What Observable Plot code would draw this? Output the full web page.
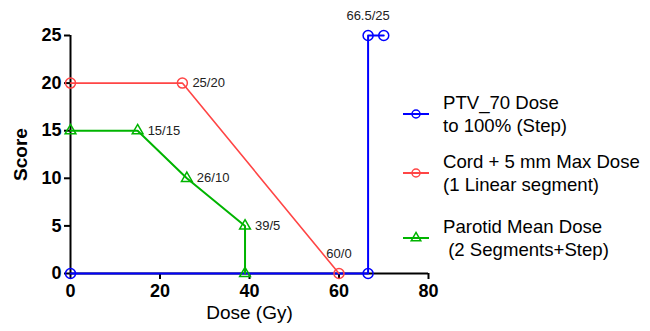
<!DOCTYPE html>
<html><head><meta charset="utf-8">
<script src="https://cdn.jsdelivr.net/npm/d3@7"></script>
<script src="https://cdn.jsdelivr.net/npm/@observablehq/plot@0.6"></script>
<style>
body{margin:0;background:#fff;}
#wrap{position:relative;width:650px;height:331px;font-family:"Liberation Sans",Arial,sans-serif;}
#legend{position:absolute;left:400px;top:0;width:250px;height:331px;}
.row{position:absolute;left:0;width:250px;height:46px;}
.row:nth-child(1){top:91px;}
.row:nth-child(2){top:150px;}
.row:nth-child(3){top:215px;}
.row svg{position:absolute;left:0;top:0;}
.row .lab{position:absolute;left:43px;top:0;font-size:18.6px;line-height:23px;white-space:pre;color:#000;}
</style>
</head><body>
<div id="wrap"><div id="legend"></div></div>
<script>
// Data
const xTicks = [0, 20, 40, 60, 80];
const yTicks = [0, 5, 10, 15, 20, 25];

const ptvX = [0, 66.5, 66.5, 70];
const ptvY = [0, 0, 25, 25];
const cordX = [0, 25, 60];
const cordY = [20, 20, 0];
const parX = [0, 15, 26, 39, 39];
const parY = [15, 15, 10, 5, 0];

const seriesNames = ["PTV_70 Dose\nto 100% (Step)", "Cord + 5 mm Max Dose\n(1 Linear segment)", "Parotid Mean Dose\n (2 Segments+Step)"];
const seriesColors = ["#0000ff", "#ff4545", "#00b400"];
const seriesSymbols = ["circle", "circle", "triangle"];

const aboveLabelText = ["66.5/25", "60/0"];
const aboveLabelX = [66.5, 60];
const aboveLabelY = [25, 0];
const rightLabelText = ["25/20", "15/15", "26/10", "39/5"];
const rightLabelX = [25, 15, 26, 39];
const rightLabelY = [20, 15, 10, 5];

const toRows = (xs, ys) => xs.map((x, i) => ({x, y: ys[i]}));
const ptv = toRows(ptvX, ptvY);
const cord = toRows(cordX, cordY);
const par = toRows(parX, parY);
const above = aboveLabelText.map((t, i) => ({t, x: aboveLabelX[i], y: aboveLabelY[i]}));
const right = rightLabelText.map((t, i) => ({t, x: rightLabelX[i], y: rightLabelY[i]}));

const font = "Liberation Sans, Arial, sans-serif";

const chart = Plot.plot({
  width: 650, height: 331,
  marginLeft: 70, marginRight: 222, marginTop: 35, marginBottom: 58,
  x: {domain: [0, 80]},
  y: {domain: [0, 25]},
  style: {fontFamily: font, color: "#000", background: "transparent", overflow: "visible"},
  marks: [
    Plot.axisY({ticks: yTicks, tickSize: 6, tickPadding: 3, fontSize: 18, fontWeight: "bold", label: null, strokeWidth: 2}),
    Plot.axisX({ticks: xTicks, tickSize: 6, tickPadding: 5, fontSize: 18, fontWeight: "bold", label: null, strokeWidth: 2}),
    Plot.ruleX([0], {stroke: "black", strokeWidth: 2}),
    Plot.ruleY([0], {stroke: "black", strokeWidth: 2}),
    Plot.text(["Score"], {frameAnchor: "left", textAnchor: "middle", rotate: -90, dx: -50, fontSize: 19, fontWeight: "bold"}),
    Plot.text(["Dose (Gy)"], {frameAnchor: "bottom", textAnchor: "middle", dy: 45, fontSize: 19}),
    Plot.line(ptv, {x: "x", y: "y", stroke: seriesColors[0], strokeWidth: 2}),
    Plot.line(cord, {x: "x", y: "y", stroke: seriesColors[1], strokeWidth: 1.6}),
    Plot.line(par, {x: "x", y: "y", stroke: seriesColors[2], strokeWidth: 2}),
    Plot.dot(ptv, {x: "x", y: "y", r: 5, symbol: seriesSymbols[0], stroke: seriesColors[0], fill: "none", strokeWidth: 1.5}),
    Plot.dot(cord, {x: "x", y: "y", r: 5, symbol: seriesSymbols[1], stroke: seriesColors[1], fill: "none", strokeWidth: 1.5}),
    Plot.dot(par, {x: "x", y: "y", r: 4, symbol: seriesSymbols[2], stroke: seriesColors[2], fill: "none", strokeWidth: 1.5}),
    Plot.text(above, {x: "x", y: "y", text: "t", dy: -20, fontSize: 13, fill: "#222"}),
    Plot.text(right, {x: "x", y: "y", text: "t", dx: 10, textAnchor: "start", fontSize: 13, fill: "#222"})
  ]
});
chart.style.position = "absolute";
chart.style.left = "0";
chart.style.top = "0";
document.getElementById("wrap").prepend(chart);

// Legend
const legend = d3.select("#legend");
seriesNames.forEach((name, i) => {
  const row = legend.append("div").attr("class", "row");
  const svg = row.append("svg").attr("width", 36).attr("height", 46);
  svg.append("line").attr("x1", 3).attr("x2", 29).attr("y1", 23).attr("y2", 23)
    .attr("stroke", seriesColors[i]).attr("stroke-width", 2);
  const sym = seriesSymbols[i] === "triangle" ? d3.symbolTriangle : d3.symbolCircle;
  svg.append("path").attr("transform", "translate(16,23)")
    .attr("d", d3.symbol(sym, seriesSymbols[i] === "triangle" ? 40 : 50)())
    .attr("fill", "none").attr("stroke", seriesColors[i]).attr("stroke-width", 1.5);
  row.append("div").attr("class", "lab").text(name);
});
</script>
</body></html>
